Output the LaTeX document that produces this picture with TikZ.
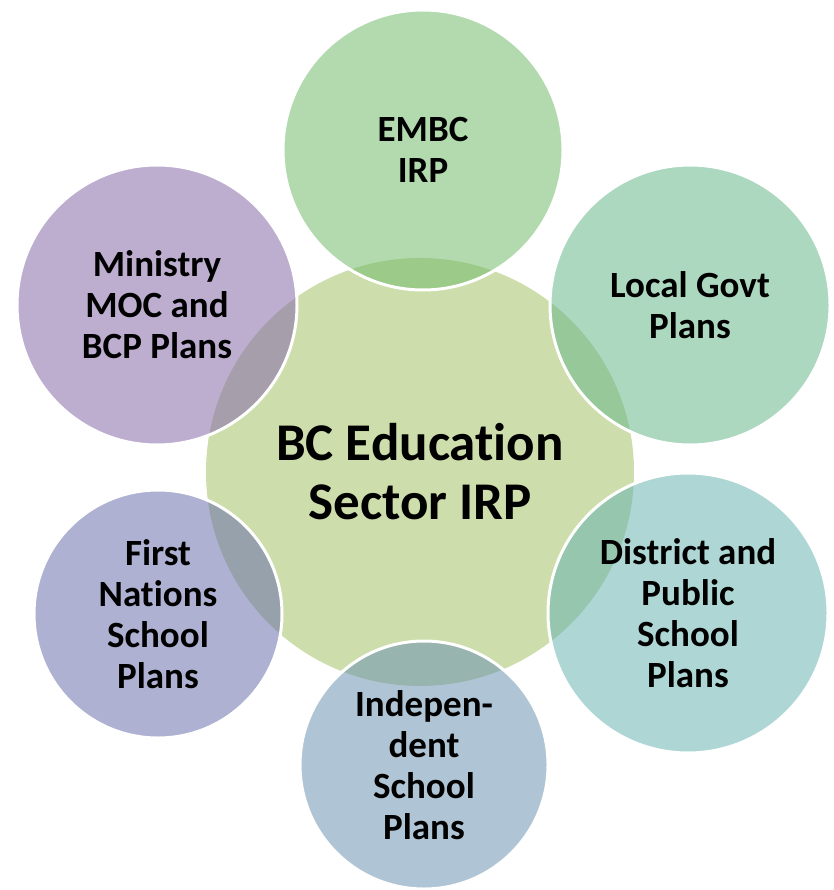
\documentclass[tikz,border=0pt]{standalone}
\usepackage{fontspec}
\setmainfont[Ligatures=NoCommon]{Carlito}
\usepackage{tikz}
\usetikzlibrary{positioning}
\definecolor{Hub}{HTML}{CDDDAB}
\definecolor{EmbcGreen}{HTML}{75BC6C}
\definecolor{GovtGreen}{HTML}{6AB88C}
\definecolor{DistrictTeal}{HTML}{6AB5B1}
\definecolor{IndepBlue}{HTML}{6E94B1}
\definecolor{NationsBlue}{HTML}{6C71AB}
\definecolor{MinistryPurple}{HTML}{876CAA}

\begin{document}
\begin{tikzpicture}[
  x=1pt,y=-1pt,
  every node/.style={align=center,font=\fontsize{37}{41}\selectfont\bfseries},
  hub/.style={circle,fill=Hub,minimum size=428pt,inner sep=0pt,font=\fontsize{53}{59}\selectfont\bfseries},
  plan/.style={circle,draw=white,line width=3pt,fill=#1,fill opacity=0.55,text opacity=1,inner sep=0pt},
  big/.style={minimum size=280pt},
  small/.style={minimum size=248pt}
]
\useasboundingbox (0,0) rectangle (833,890);
\node[hub] (sector) at (420,472) {BC Education\\Sector IRP};
\node[plan=EmbcGreen,big] (embc) at (423,150) {EMBC\\IRP};
\node[plan=GovtGreen,big] (govt) at (690,305) {Local Govt\\Plans};
\node[plan=DistrictTeal,big] (district) at (688,613) {District and\\Public\\School\\Plans};
\node[plan=IndepBlue,small] (indep) at (424,765) {Indepen-\\dent\\School\\Plans};
\node[plan=NationsBlue,small] (nations) at (158,614) {First\\Nations\\School\\Plans};
\node[plan=MinistryPurple,big] (ministry) at (157,305) {Ministry\\MOC and\\BCP Plans};
\end{tikzpicture}
\end{document}
